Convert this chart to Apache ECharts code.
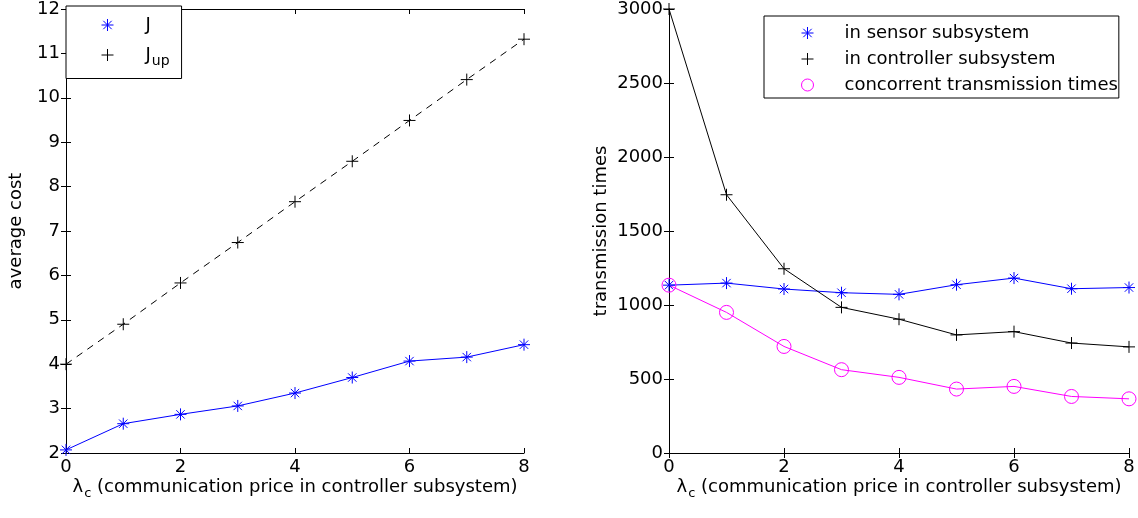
<!DOCTYPE html>
<html>
<head>
<meta charset="utf-8">
<script src="https://cdn.jsdelivr.net/npm/echarts@6/dist/echarts.min.js"></script>
<style>
  html, body { margin: 0; padding: 0; background: #fff; }
  #main { width: 1138px; height: 518px; }
</style>
</head>
<body>
<div id="main"></div>
<script>
// 数据
var lambdaC = [0, 1, 2, 3, 4, 5, 6, 7, 8];
var costJ = [2.07, 2.66, 2.87, 3.06, 3.35, 3.70, 4.07, 4.16, 4.44];
var costJup = [4.0, 4.9, 5.83, 6.74, 7.66, 8.57, 9.49, 10.41, 11.32];
var sensorTimes = [1134, 1148, 1108, 1083, 1072, 1137, 1182, 1110, 1118];
var controllerTimes = [3000, 1745, 1245, 984, 904, 798, 820, 743, 717];
var concurrentTimes = [1134, 950, 720, 563, 511, 432, 450, 382, 366];

var FONT = 'DejaVu Sans';
var FS = 18;
var starPath = 'path://M5,0L5,10M0,5L10,5M1.5,1.5L8.5,8.5M1.5,8.5L8.5,1.5';
var plusPath = 'path://M5,0L5,10M0,5L10,5';

function pairs(xs, ys) {
    return xs.map(function (x, i) { return [x, ys[i]]; });
}

var xName = '{l|λ}{s|c} (communication price in controller subsystem)';
var nameRich = {
    l: { fontSize: FS, fontFamily: FONT, color: '#000' },
    s: { fontSize: 13, fontFamily: FONT, color: '#000', padding: [12, 0, 0, 1] }
};

function plainNum(v) { return String(v); }

function xAxisPair(gridIndex) {
    return [{
        gridIndex: gridIndex, type: 'value', position: 'bottom',
        min: 0, max: 8, interval: 2,
        name: xName, nameLocation: 'middle', nameGap: 22,
        nameMoveOverlap: false,
        nameTextStyle: { fontSize: FS, fontFamily: FONT, color: '#000', rich: nameRich },
        axisLine: { lineStyle: { color: '#000', width: 1 } },
        axisTick: { inside: true, length: 5, lineStyle: { color: '#000' } },
        axisLabel: { fontSize: FS, fontFamily: FONT, color: '#000', margin: 5, formatter: plainNum },
        splitLine: { show: false }
    }, {
        gridIndex: gridIndex, type: 'value', position: 'top',
        min: 0, max: 8, interval: 2,
        axisLine: { lineStyle: { color: '#000', width: 1 } },
        axisTick: { inside: true, length: 5, lineStyle: { color: '#000' } },
        axisLabel: { show: false },
        splitLine: { show: false }
    }];
}

function yAxisPair(gridIndex, min, max, interval, name, gap) {
    return [{
        gridIndex: gridIndex, type: 'value', position: 'left',
        min: min, max: max, interval: interval,
        name: name, nameLocation: 'middle', nameGap: gap,
        nameMoveOverlap: false,
        nameTextStyle: { fontSize: FS, fontFamily: FONT, color: '#000' },
        axisLine: { lineStyle: { color: '#000', width: 1 } },
        axisTick: { inside: true, length: 5, lineStyle: { color: '#000' } },
        axisLabel: { fontSize: FS, fontFamily: FONT, color: '#000', margin: 6, formatter: plainNum },
        splitLine: { show: false }
    }, {
        gridIndex: gridIndex, type: 'value', position: 'right',
        min: min, max: max, interval: interval,
        axisLine: { lineStyle: { color: '#000', width: 1 } },
        axisTick: { inside: true, length: 5, lineStyle: { color: '#000' } },
        axisLabel: { show: false },
        splitLine: { show: false }
    }];
}

var myChart = echarts.init(document.getElementById('main'));

var option = {
    animation: false,
    backgroundColor: '#fff',
    grid: [
        { left: 66, right: 614, top: 6, bottom: 65 },
        { left: 669, right: 9, top: 6, bottom: 65 }
    ],
    xAxis: xAxisPair(0).concat(xAxisPair(1)),
    yAxis: yAxisPair(0, 2, 12, 1, 'average cost', 41).concat(yAxisPair(1, 0, 3000, 500, 'transmission times', 59)),
    legend: [{
        orient: 'vertical',
        left: 66, top: 6,
        padding: [10, 12, 10, 33],
        itemGap: 12,
        itemWidth: 66, itemHeight: 12,
        symbolKeepAspect: true,
        backgroundColor: '#fff',
        borderColor: '#000', borderWidth: 1, borderRadius: 0,
        itemStyle: { borderWidth: 1 },
        selectedMode: false,
        textStyle: {
            fontSize: FS, fontFamily: FONT, color: '#000',
            rich: {
                a: { fontSize: FS, fontFamily: FONT, color: '#000' },
                b: { fontSize: 14, fontFamily: FONT, color: '#000', padding: [13, 0, 0, 1] }
            }
        },
        formatter: function (name) {
            return name === 'Jup' ? '{a|J}{b|up}' : '{a|J}';
        },
        data: [
            { name: 'J', icon: starPath },
            { name: 'Jup', icon: plusPath }
        ]
    }, {
        orient: 'vertical',
        left: 764, top: 16,
        padding: [8, 1, 4, 35],
        itemGap: 8,
        itemWidth: 64, itemHeight: 12,
        symbolKeepAspect: true,
        backgroundColor: '#fff',
        borderColor: '#000', borderWidth: 1, borderRadius: 0,
        itemStyle: { borderWidth: 1 },
        selectedMode: false,
        textStyle: { fontSize: FS, fontFamily: FONT, color: '#000' },
        data: [
            { name: 'in sensor subsystem', icon: starPath },
            { name: 'in controller subsystem', icon: plusPath },
            { name: 'concorrent transmission times', icon: 'circle' }
        ]
    }],
    series: [{
        name: 'J', type: 'line', xAxisIndex: 0, yAxisIndex: 0,
        data: pairs(lambdaC, costJ),
        symbol: starPath, symbolSize: 12,
        itemStyle: { color: 'none', borderColor: '#0000ff', borderWidth: 1 },
        lineStyle: { color: '#0000ff', width: 1 }
    }, {
        name: 'Jup', type: 'line', xAxisIndex: 0, yAxisIndex: 0,
        data: pairs(lambdaC, costJup),
        symbol: plusPath, symbolSize: 12,
        itemStyle: { color: 'none', borderColor: '#000', borderWidth: 1 },
        lineStyle: { color: '#000', width: 1, type: [7, 6] }
    }, {
        name: 'in sensor subsystem', type: 'line', xAxisIndex: 2, yAxisIndex: 2,
        data: pairs(lambdaC, sensorTimes),
        symbol: starPath, symbolSize: 12,
        itemStyle: { color: 'none', borderColor: '#0000ff', borderWidth: 1 },
        lineStyle: { color: '#0000ff', width: 1 }
    }, {
        name: 'in controller subsystem', type: 'line', xAxisIndex: 2, yAxisIndex: 2,
        data: pairs(lambdaC, controllerTimes),
        symbol: plusPath, symbolSize: 12,
        itemStyle: { color: 'none', borderColor: '#000', borderWidth: 1 },
        lineStyle: { color: '#000', width: 1 }
    }, {
        name: 'concorrent transmission times', type: 'line', xAxisIndex: 2, yAxisIndex: 2,
        data: pairs(lambdaC, concurrentTimes),
        symbol: 'circle', symbolSize: 14,
        itemStyle: { color: 'none', borderColor: '#ff00ff', borderWidth: 1 },
        lineStyle: { color: '#ff00ff', width: 1 }
    }]
};

myChart.setOption(option);
window.onresize = function () {
    myChart.resize();
};
</script>
</body>
</html>
